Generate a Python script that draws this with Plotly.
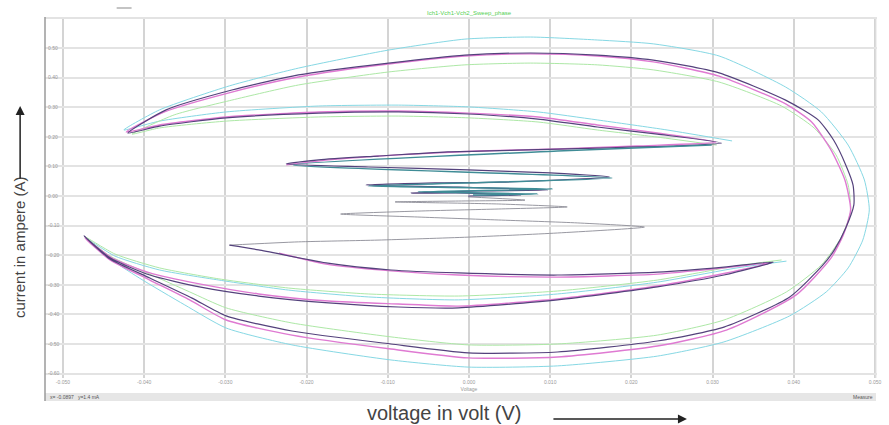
import plotly.graph_objects as go

# ---------------- data (voltage in V, current in A) ----------------
x_ticks = [-0.05, -0.04, -0.03, -0.02, -0.01, 0.0, 0.01, 0.02, 0.03, 0.04, 0.05]
x_ticktext = ["-0.050", "-0.040", "-0.030", "-0.020", "-0.010", "0.000<br>Voltage",
              "0.010", "0.020", "0.030", "0.040", "0.050"]
y_ticks = [-0.6, -0.5, -0.4, -0.3, -0.2, -0.1, 0.0, 0.1, 0.2, 0.3, 0.4, 0.5, 0.6]
y_ticktext = ["-0.60", "-0.50", "-0.40", "-0.30", "-0.20", "-0.10", "0.00",
              "0.10", "0.20", "0.30", "0.40", "0.50", "0.60"]

ch1_v = [-0.0001, 0.0064, -0.0001, -0.0071, 0.0011, 0.0097, -0.0013, -0.0127, -0.0042, 0.0039,
         0.0173, 0.0100, -0.0001, -0.0124, -0.0225, -0.0185, -0.0112, -0.0026, 0.0060, 0.0158,
         0.0256, 0.0311, 0.0232, 0.0158, 0.0085, -0.0001, -0.0087, -0.0185, -0.0299, -0.0381, -0.0420,
         -0.0373, -0.0292, -0.0210, -0.0099, -0.0005, 0.0076, 0.0158, 0.0227, 0.0308, 0.0390,
         0.0430, 0.0449, 0.0464, 0.0473, 0.0474, 0.0464, 0.0450, 0.0436, 0.0395, 0.0314,
         0.0232, 0.0109, -0.0001, -0.0096, -0.0218, -0.0299, -0.0341, -0.0393, -0.0442, -0.0474,
         -0.0442, -0.0393, -0.0332, -0.0259, -0.0173, -0.0087, -0.0013, 0.0109, 0.0232, 0.0314,
         0.0375, 0.0314, 0.0232, 0.0109, -0.0013, -0.0096, -0.0176, -0.0259, -0.0295]
ch1_i = [0.000, 0.003, 0.010, 0.010, 0.017, 0.020, 0.030, 0.037, 0.044, 0.047,
         0.064, 0.078, 0.088, 0.098, 0.108, 0.122, 0.135, 0.149, 0.155, 0.162,
         0.169, 0.179, 0.209, 0.233, 0.260, 0.277, 0.284, 0.280, 0.264, 0.236, 0.213,
         0.291, 0.358, 0.409, 0.449, 0.476, 0.483, 0.476, 0.459, 0.416, 0.324,
         0.257, 0.189, 0.105, 0.037, -0.030, -0.108, -0.182, -0.233, -0.341, -0.443,
         -0.490, -0.527, -0.530, -0.500, -0.456, -0.405, -0.345, -0.277, -0.213, -0.135,
         -0.209, -0.267, -0.307, -0.338, -0.361, -0.375, -0.378, -0.351, -0.307, -0.267,
         -0.223, -0.240, -0.257, -0.267, -0.260, -0.250, -0.226, -0.182, -0.166]

ch2_v = [-0.0225, -0.0173, -0.0087, 0.0011, 0.0109, 0.0207, 0.0304, 0.0232, 0.0158, 0.0085,
         -0.0001, -0.0087, -0.0185, -0.0299, -0.0381, -0.0422,
         -0.0375, -0.0292, -0.0210, -0.0099, -0.0005, 0.0076, 0.0158, 0.0227, 0.0308, 0.0390,
         0.0422, 0.0446, 0.0463, 0.0470, 0.0461, 0.0446, 0.0403, 0.0317, 0.0232, 0.0109,
         -0.0001, -0.0096, -0.0218, -0.0299, -0.0344, -0.0393, -0.0442, -0.0473,
         -0.0440, -0.0393, -0.0332, -0.0259, -0.0173, -0.0087, -0.0013, 0.0109, 0.0232, 0.0317,
         0.0372, 0.0314, 0.0232, 0.0109, -0.0013, -0.0096, -0.0176, -0.0234]
ch2_i = [0.105, 0.122, 0.139, 0.152, 0.159, 0.169, 0.182, 0.213, 0.240, 0.267,
         0.280, 0.287, 0.284, 0.267, 0.240, 0.216,
         0.284, 0.351, 0.402, 0.446, 0.473, 0.480, 0.473, 0.453, 0.405, 0.311,
         0.250, 0.155, 0.054, -0.047, -0.132, -0.209, -0.334, -0.453, -0.507, -0.544,
         -0.547, -0.517, -0.470, -0.419, -0.351, -0.284, -0.216, -0.142,
         -0.209, -0.260, -0.297, -0.331, -0.355, -0.365, -0.372, -0.348, -0.304, -0.260,
         -0.226, -0.243, -0.264, -0.274, -0.267, -0.253, -0.230, -0.193]

ch3_v = [0.0324, 0.0244, 0.0158, 0.0085, -0.0001, -0.0087, -0.0185, -0.0299, -0.0381, -0.0425,
         -0.0381, -0.0295, -0.0210, -0.0099, -0.0005, 0.0076, 0.0158, 0.0227, 0.0308, 0.0390,
         0.0434, 0.0467, 0.0487, 0.0493, 0.0485, 0.0467, 0.0440, 0.0395, 0.0314, 0.0232,
         0.0109, -0.0001, -0.0096, -0.0218, -0.0299, -0.0350, -0.0406, -0.0449, -0.0472,
         -0.0436, -0.0381, -0.0308, -0.0222, -0.0124, -0.0013, 0.0109, 0.0232, 0.0330, 0.0391]
ch3_i = [0.186, 0.223, 0.257, 0.284, 0.301, 0.307, 0.304, 0.284, 0.253, 0.223,
         0.291, 0.372, 0.432, 0.493, 0.530, 0.537, 0.527, 0.514, 0.473, 0.368,
         0.284, 0.172, 0.054, -0.047, -0.149, -0.243, -0.324, -0.405, -0.493, -0.541,
         -0.574, -0.578, -0.554, -0.503, -0.446, -0.368, -0.277, -0.199, -0.142,
         -0.203, -0.250, -0.284, -0.318, -0.341, -0.351, -0.331, -0.291, -0.243, -0.220]

ch4_v = [0.0305, 0.0232, 0.0158, 0.0085, -0.0001, -0.0087, -0.0185, -0.0299, -0.0381, -0.0415,
         -0.0363, -0.0292, -0.0210, -0.0099, -0.0005, 0.0076, 0.0158, 0.0227, 0.0308, 0.0385,
         0.0425, 0.0452, 0.0467, 0.0470, 0.0458, 0.0434, 0.0391, 0.0314, 0.0232, 0.0109,
         -0.0001, -0.0096, -0.0218, -0.0299, -0.0344, -0.0393, -0.0442, -0.0472,
         -0.0436, -0.0381, -0.0308, -0.0222, -0.0124, -0.0013, 0.0109, 0.0232, 0.0330, 0.0385]
ch4_i = [0.172, 0.199, 0.223, 0.250, 0.264, 0.270, 0.267, 0.253, 0.230, 0.209,
         0.274, 0.324, 0.375, 0.419, 0.443, 0.449, 0.443, 0.426, 0.385, 0.304,
         0.230, 0.139, 0.037, -0.054, -0.142, -0.233, -0.324, -0.419, -0.470, -0.500,
         -0.503, -0.476, -0.429, -0.378, -0.324, -0.264, -0.203, -0.139,
         -0.196, -0.243, -0.280, -0.311, -0.331, -0.338, -0.321, -0.284, -0.236, -0.216]

ch5_v = [0.0005, 0.0085, -0.0063, 0.0103, -0.0124, 0.0176, -0.0216, 0.0109, 0.0299]
ch5_i = [0.003, 0.007, 0.014, 0.024, 0.034, 0.061, 0.105, 0.152, 0.172]

ch6_v = [-0.0295, -0.0210, -0.0112, -0.0001, 0.0109, 0.0216, 0.0134, 0.0036, -0.0063, -0.0158,
         -0.0063, 0.0036, 0.0121, 0.0036, -0.0091, -0.0013, 0.0069, -0.0001]
ch6_i = [-0.166, -0.155, -0.149, -0.139, -0.125, -0.105, -0.091, -0.081, -0.071, -0.061,
         -0.051, -0.044, -0.037, -0.027, -0.020, -0.017, -0.014, -0.003]

series = [
    ("ch3", ch3_v, ch3_i, "#86d8e4", 1.0),
    ("ch4", ch4_v, ch4_i, "#ade8a6", 1.0),
    ("ch6", ch6_v, ch6_i, "#8c8c96", 0.9),
    ("ch2", ch2_v, ch2_i, "#df7ad2", 1.4),
    ("ch1", ch1_v, ch1_i, "#54427c", 1.2),
    ("ch5", ch5_v, ch5_i, "#3f8c96", 1.5),
]

fig = go.Figure()
for name, xs, ys, col, w in series:
    fig.add_trace(go.Scatter(x=xs, y=ys, mode="lines", name=name,
                             line=dict(color=col, width=w, shape="spline", smoothing=0.6),
                             hoverinfo="skip", showlegend=False))

# ---------------- layout ----------------
W, H = 889, 425
L, R, T, B = 45, 8, 17, 47
PW, PH = W - L - R, H - T - B


def px(xp):
    return (xp - L) / PW


def py(yp):
    return (H - B - yp) / PH


fig.update_layout(
    width=W, height=H,
    margin=dict(l=L, r=R, t=T, b=B),
    paper_bgcolor="white", plot_bgcolor="white",
    font=dict(family="Liberation Sans, Arial, sans-serif"),
    xaxis=dict(range=[-0.05221, 0.05025], tickvals=x_ticks, ticktext=x_ticktext,
               showgrid=True, gridcolor="#d4d4d4", gridwidth=1.5, zeroline=False,
               showline=False, ticks="", tickfont=dict(size=5, color="#999999")),
    yaxis=dict(range=[-0.6149, 0.6047], tickvals=y_ticks, ticktext=y_ticktext,
               showgrid=True, gridcolor="#e3e3e3", gridwidth=1.5, zeroline=False,
               showline=False, ticks="", ticklabelposition="inside",
               tickfont=dict(size=5, color="#999999")),
    shapes=[
        dict(type="line", xref="paper", yref="paper", x0=0, x1=0, y0=py(17), y1=py(401),
             line=dict(color="#9a9a9a", width=1.5)),
        dict(type="line", xref="paper", yref="paper", x0=px(880), x1=px(880), y0=py(17), y1=py(378),
             line=dict(color="#e4e4e4", width=1)),
        dict(type="rect", xref="paper", yref="paper", x0=0, x1=px(880), y0=py(401), y1=py(393),
             fillcolor="#e6e6e6", line=dict(width=0), layer="below"),
        dict(type="line", xref="paper", yref="paper", x0=px(117), x1=px(132), y0=py(8), y1=py(8),
             line=dict(color="#c4c4c4", width=2)),
    ],
    annotations=[
        dict(text="Ich1-Vch1-Vch2_Sweep_phase", xref="paper", yref="paper", x=px(472), y=py(13),
             showarrow=False, font=dict(size=6, color="#55d055"), xanchor="center", yanchor="middle"),
        dict(text="current in ampere (A)", xref="paper", yref="paper", x=px(19), y=py(247),
             textangle=-90, showarrow=False, font=dict(size=15, color="#444444"),
             xanchor="center", yanchor="middle"),
        dict(text="", xref="paper", yref="paper", x=px(20), y=py(106), ax=0, ay=74,
             showarrow=True, arrowhead=2, arrowsize=1.2, arrowwidth=1.5, arrowcolor="#222222"),
        dict(text="voltage in volt (V)", xref="paper", yref="paper", x=px(446), y=py(413),
             showarrow=False, font=dict(size=20, color="#444444"),
             xanchor="center", yanchor="middle"),
        dict(text="", xref="paper", yref="paper", x=px(690), y=py(419), ax=-135, ay=0,
             showarrow=True, arrowhead=2, arrowsize=1.2, arrowwidth=1.5, arrowcolor="#222222"),
        dict(text="x= -0.0897   y=1.4 mA", xref="paper", yref="paper", x=px(48), y=py(397),
             showarrow=False, font=dict(size=5, color="#555555"), xanchor="left", yanchor="middle"),
        dict(text="Measure", xref="paper", yref="paper", x=px(879), y=py(397),
             showarrow=False, font=dict(size=5, color="#555555"), xanchor="right", yanchor="middle"),
    ],
)

fig.write_html("out.html")
